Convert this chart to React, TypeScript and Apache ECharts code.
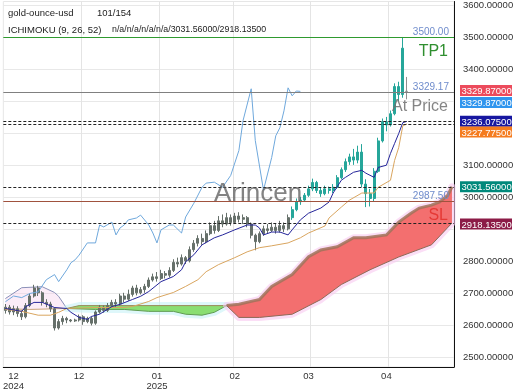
import React, { useEffect, useRef } from 'react';
import * as echarts from 'echarts';

const N_SLOTS = 110;
const categories = Array.from({ length: N_SLOTS }, (_, i) => String(i));
const xTickIndex = [2, 18, 37, 56, 74, 93];
const xTickLabels = ['12\n2024', '12', '01\n2025', '02', '03', '04'];
const yGridValues = [2500, 2600, 2700, 2800, 2900, 3000, 3100, 3200, 3300, 3400, 3500, 3600];
const yLabelValues = [2500, 2600, 2700, 2800, 3000, 3100, 3400, 3500, 3600];

// [open, close, low, high]
const ohlc: number[][] = [
  [2645, 2655, 2635, 2665], [2655, 2640, 2632, 2662], [2640, 2650, 2630, 2660], [2650, 2635, 2625, 2658],
  [2635, 2625, 2615, 2645], [2625, 2660, 2620, 2668], [2660, 2690, 2655, 2698], [2690, 2715, 2685, 2725],
  [2715, 2700, 2690, 2722], [2700, 2670, 2660, 2705], [2670, 2665, 2655, 2680], [2665, 2650, 2640, 2672],
  [2650, 2590, 2582, 2655], [2590, 2610, 2585, 2618], [2610, 2620, 2600, 2628], [2620, 2615, 2605, 2625],
  [2615, 2612, 2608, 2618], [2612, 2615, 2609, 2619], [2615, 2625, 2610, 2632], [2625, 2610, 2600, 2630],
  [2610, 2620, 2605, 2625], [2620, 2605, 2598, 2626], [2605, 2640, 2600, 2645], [2640, 2655, 2635, 2662],
  [2655, 2645, 2638, 2660], [2645, 2660, 2640, 2668], [2660, 2670, 2655, 2678], [2670, 2665, 2655, 2680],
  [2665, 2690, 2660, 2697], [2690, 2680, 2670, 2700], [2680, 2695, 2675, 2710], [2695, 2715, 2688, 2722],
  [2715, 2700, 2692, 2725], [2700, 2710, 2695, 2718], [2710, 2720, 2700, 2728], [2720, 2740, 2715, 2748],
  [2740, 2750, 2735, 2760], [2750, 2745, 2735, 2765], [2745, 2760, 2740, 2772], [2760, 2755, 2745, 2768],
  [2755, 2770, 2748, 2780], [2770, 2795, 2765, 2805], [2795, 2790, 2780, 2810], [2790, 2810, 2785, 2820],
  [2810, 2800, 2790, 2815], [2800, 2835, 2795, 2845], [2835, 2855, 2828, 2865], [2855, 2870, 2845, 2880],
  [2870, 2860, 2850, 2885], [2860, 2885, 2855, 2895], [2885, 2910, 2880, 2920], [2910, 2895, 2885, 2925],
  [2895, 2925, 2890, 2940], [2925, 2915, 2905, 2945], [2915, 2935, 2910, 2950], [2935, 2920, 2910, 2945],
  [2920, 2940, 2915, 2950], [2940, 2930, 2920, 2952], [2930, 2935, 2915, 2945], [2935, 2915, 2905, 2940],
  [2915, 2880, 2870, 2920], [2880, 2860, 2833, 2885], [2860, 2885, 2855, 2892], [2885, 2900, 2878, 2910],
  [2900, 2895, 2885, 2915], [2895, 2905, 2890, 2920], [2905, 2895, 2885, 2915], [2895, 2910, 2888, 2925],
  [2910, 2900, 2890, 2920], [2900, 2935, 2895, 2945], [2935, 2960, 2928, 2970], [2960, 2985, 2955, 2995],
  [2985, 2990, 2975, 3000], [2990, 3005, 2985, 3012], [3005, 3025, 3000, 3035], [3025, 3045, 3018, 3057],
  [3045, 3020, 3012, 3050], [3020, 3010, 3000, 3030], [3010, 3025, 3005, 3035], [3025, 3020, 3010, 3032],
  [3020, 3030, 3012, 3040], [3030, 3060, 3025, 3068], [3060, 3085, 3055, 3092], [3085, 3110, 3078, 3120],
  [3110, 3125, 3100, 3135], [3125, 3115, 3100, 3150], [3115, 3140, 3105, 3160], [3140, 3040, 3030, 3165],
  [3040, 3010, 2968, 3055], [3010, 2995, 2970, 3025], [2995, 3080, 2985, 3090], [3080, 3175, 3075, 3185],
  [3175, 3235, 3170, 3245], [3235, 3225, 3205, 3250], [3225, 3260, 3220, 3270], [3260, 3345, 3255, 3355],
  [3345, 3320, 3300, 3360], [3465, 3320, 3310, 3500], [3330, 3329.87, 3305, 3375],
];
const brightFrom = 70;
const currentIndex = 98;

const tenkan: number[][] = [
  [0, 2651], [4, 2642], [5, 2657], [7, 2670], [9, 2670], [12, 2654], [15, 2651], [16, 2639], [18, 2623],
  [20, 2617], [21, 2626], [23, 2633], [26, 2657], [28, 2664], [31, 2679], [33, 2689], [35, 2704], [38, 2735],
  [41, 2751], [43, 2772], [44, 2797], [46, 2819], [48, 2850], [51, 2872], [53, 2881], [56, 2897], [59, 2912],
  [61, 2912], [62, 2903], [63, 2881], [65, 2890], [67, 2890], [69, 2881], [70, 2897], [72, 2928], [74, 2949],
  [77, 2965], [79, 2984], [80, 3012], [82, 3052], [83, 3061], [85, 3077], [87, 3083], [88, 3074], [90, 3061],
  [91, 3092], [93, 3099], [94, 3136], [95, 3167], [96, 3198], [97, 3232], [98, 3236.075],
];
const kijun: number[][] = [
  [0, 2648], [4, 2642], [6, 2636], [8, 2630], [11, 2630], [13, 2639], [15, 2651], [22, 2654], [29, 2654],
  [31, 2657], [35, 2673], [37, 2685], [41, 2701], [44, 2720], [47, 2741], [49, 2766], [52, 2788], [56, 2810],
  [59, 2828], [62, 2841], [65, 2847], [69, 2856], [72, 2872], [74, 2887], [78, 2909], [79, 2934], [82, 2968],
  [84, 2990], [87, 3012], [90, 3012], [91, 3030], [94, 3052], [95, 3114], [96, 3154], [97, 3222], [98, 3227.775],
];
const chikou: number[][] = [
  [0, 2672], [2, 2690], [4, 2685], [6, 2698], [8, 2703], [10, 2741], [12, 2757], [13, 2735], [15, 2772],
  [16, 2794], [17, 2803], [18, 2818], [20, 2856], [22, 2856], [23, 2912], [24, 2906], [26, 2921], [27, 2881],
  [28, 2903], [29, 2912], [30, 2928], [32, 2934], [33, 2943], [35, 2912], [36, 2887], [37, 2856], [38, 2897],
  [40, 2912], [41, 2912], [43, 2887], [44, 2937], [46, 2980], [48, 3030], [49, 3043], [51, 3046], [53, 3030],
  [55, 3067], [57, 3145], [58, 3238], [60, 3338], [61, 3176], [63, 3021], [65, 3123], [66, 3191], [67, 3216],
  [68, 3269], [69, 3341], [70, 3316], [71, 3331], [72, 3329.87],
];

// cloud (senkou spans), by segment
const cloudLeftUpper: number[][] = [[0, 2682], [4, 2716], [9, 2719], [12, 2701], [13, 2689], [15, 2651]];
const cloudLeftLower: number[][] = [[0, 2650], [6, 2648], [12, 2650], [15, 2651]];
const cloudGreenUpper: number[][] = [[15, 2651], [18, 2660], [54, 2660]];
const cloudGreenLower: number[][] = [[15, 2651], [22, 2648], [29, 2648], [35, 2642], [41, 2642], [44, 2633], [48, 2630], [51, 2639], [54, 2660]];
const cloudRedUpper: number[][] = [
  [54, 2660], [57, 2664], [62, 2679], [65, 2720], [70, 2757], [74, 2813], [77, 2834], [81, 2844], [85, 2872],
  [88, 2872], [93, 2881], [96, 2921], [99, 2949], [101, 2965], [104, 2974], [106, 2984], [108, 3005], [109, 3031.56],
];
const cloudRedLower: number[][] = [
  [54, 2660], [57, 2623], [62, 2623], [70, 2633], [77, 2679], [82, 2726], [89, 2772], [96, 2812], [104, 2850], [109, 2918.135],
];

// horizontal levels: TP, at price, SL, then the dotted indicator levels
const levelValues = [3500, 3329.17, 2987.5, 3236.075, 3227.775, 3031.56, 2918.135];
const levelSmallLabels = ['3500.00', '3329.17', '2987.50', '', '', '', ''];
const levelBigLabels = ['TP1', 'At Price', 'SL', '', '', '', ''];
const tagValues = [3329.87, 3329.87, 3236.075, 3227.775, 3031.56, 2918.135];

const levelColors = ['#2f9a2f', '#808080', '#a0523e', '#222', '#222', '#222', '#222'];
const levelBigColors = ['#2f8f2f', 'rgba(110,110,110,0.85)', '#e53935', '', '', '', ''];
const levelDashed = [false, false, false, true, true, true, true];
const tagColors = ['#ec4b5c', '#2f95ee', '#1717a0', '#f57c1f', '#00897b', '#8c1b47'];
const tagOffsets = [-1, 11, 0, 8, 0, 1];
const vGridIndex = [19, 38, 56, 75, 94];
const FONT = 'Liberation Sans, Arial, Helvetica, sans-serif';

const cloudSegments = [
  { upper: cloudLeftUpper, lower: cloudLeftLower, fill: 'rgba(244,200,232,0.35)', up: '#8a90b8', low: '#c9a27a', upW: 1, halo: 'rgba(0,0,0,0)' },
  { upper: cloudGreenUpper, lower: cloudGreenLower, fill: '#8ade72', up: '#9a8a5a', low: '#5f9a52', upW: 1, halo: 'rgba(200,242,246,0.6)' },
  { upper: cloudRedUpper, lower: cloudRedLower, fill: '#f36f6f', up: 'rgba(160,115,90,0.85)', low: '#8c6a58', upW: 3, halo: 'rgba(249,200,240,0.6)' },
];

export default function App() {
  const ref = useRef<HTMLDivElement>(null);
  useEffect(() => {
    if (!ref.current) return;
    const chart = echarts.init(ref.current, null, { renderer: 'svg' });
    const candleData = ohlc.map((d, i) => {
      let up = '#66706a';
      let down = '#7e665c';
      if (i >= brightFrom) { up = '#26a69a'; down = '#ef5350'; }
      if (i === currentIndex) { up = '#8f8f8f'; down = '#8f8f8f'; }
      return { value: d, itemStyle: { color: up, color0: down, borderColor: up, borderColor0: down } };
    });
    const option: any = {
      animation: false,
      textStyle: { fontFamily: FONT },
      grid: { left: 3, right: 66, top: 0, bottom: 22, show: true, borderColor: '#e6e6e6', borderWidth: 1, backgroundColor: 'transparent' },
      xAxis: {
        type: 'category',
        data: categories,
        boundaryGap: true,
        axisLine: { lineStyle: { color: '#111', width: 1 } },
        axisTick: { show: false },
        splitLine: { show: true, interval: (idx: number) => vGridIndex.includes(idx), lineStyle: { color: '#e4e4e4', width: 1 } },
        axisLabel: {
          interval: (idx: number) => xTickIndex.includes(idx),
          formatter: (v: string) => { const k = xTickIndex.indexOf(Number(v)); return k >= 0 ? xTickLabels[k] : ''; },
          color: '#333', fontSize: 9.5, lineHeight: 10, margin: 3,
        },
      },
      yAxis: {
        type: 'value',
        position: 'right',
        min: 2468,
        max: 3611,
        axisLine: { show: true, lineStyle: { color: '#111', width: 1 } },
        axisTick: { show: false, customValues: yGridValues },
        splitLine: { show: true, lineStyle: { color: '#e8e8e8', width: 1 } },
        axisLabel: { customValues: yLabelValues, formatter: (v: number) => v.toFixed(5), color: '#333', fontSize: 9.5, margin: 9 },
      },
      graphic: [
        { type: 'text', left: 8, top: 7, z: 10, style: { text: 'gold-ounce-usd', fill: '#222', font: `9.5px ${FONT}` } },
        { type: 'text', left: 97, top: 7, z: 10, style: { text: '101/154', fill: '#222', font: `9.5px ${FONT}` } },
        { type: 'text', left: 8, top: 24, z: 10, style: { text: 'ICHIMOKU (9, 26, 52)', fill: '#222', font: `9.5px ${FONT}` } },
        { type: 'text', left: 112, top: 24, z: 10, style: { text: 'n/a/n/a/n/a/n/a/3031.56000/2918.13500', fill: '#222', font: `8.8px ${FONT}` } },
        { type: 'text', left: 214, top: 179, z: 10, style: { text: 'Arincen', fill: 'rgba(90,90,90,0.75)', font: `26px ${FONT}` } },
      ],
      series: [
        {
          type: 'custom', name: 'cloud', z: 1, silent: true,
          data: cloudSegments.map((_, k) => [k, 2500]),
          renderItem: (params: any, api: any) => {
            const seg = cloudSegments[params.dataIndex];
            const up = seg.upper.map((p) => api.coord(p));
            const lo = seg.lower.map((p) => api.coord(p));
            const poly = up.concat(lo.slice().reverse());
            return {
              type: 'group',
              children: [
                { type: 'polygon', shape: { points: poly }, style: { fill: 'none', stroke: seg.halo, lineWidth: 7, lineJoin: 'round' } },
                { type: 'polygon', shape: { points: poly }, style: { fill: seg.fill } },
                { type: 'polyline', shape: { points: up }, style: { stroke: seg.up, lineWidth: seg.upW, fill: null } },
                { type: 'polyline', shape: { points: lo }, style: { stroke: seg.low, lineWidth: 1, fill: null } },
              ],
            };
          },
        },
        { type: 'candlestick', name: 'price', z: 2, barWidth: 2.5, data: candleData },
        { type: 'line', name: 'chikou', data: chikou, z: 3, showSymbol: false, lineStyle: { color: '#6fa8dc', width: 1 } },
        { type: 'line', name: 'kijun', data: kijun, z: 3, showSymbol: false, lineStyle: { color: '#d9a55f', width: 1 } },
        { type: 'line', name: 'tenkan', data: tenkan, z: 3, showSymbol: false, lineStyle: { color: '#25259a', width: 1 } },
        {
          type: 'custom', name: 'levels', z: 4, silent: true, clip: false,
          data: levelValues.map((v) => [0, v]),
          renderItem: (params: any, api: any) => {
            const i = params.dataIndex;
            const v = api.value(1);
            const cs = params.coordSys;
            const y = Math.round(api.coord([0, v])[1]) + 0.5;
            const x0 = cs.x;
            const x1 = cs.x + cs.width;
            const children: any[] = [
              { type: 'line', shape: { x1: x0, y1: y, x2: x1, y2: y }, style: { stroke: levelColors[i], lineWidth: 1, lineDash: levelDashed[i] ? [3, 2] : null } },
            ];
            if (levelSmallLabels[i]) {
              children.push({ type: 'text', style: { text: levelSmallLabels[i], x: x1 - 5, y: y - 1.5, align: 'right', verticalAlign: 'bottom', fill: '#6f8ccc', font: `10px ${FONT}` } });
            }
            if (levelBigLabels[i]) {
              children.push({ type: 'text', style: { text: levelBigLabels[i], x: x1 - 6, y: y + 12.5, align: 'right', verticalAlign: 'middle', fill: levelBigColors[i], font: `16px ${FONT}` } });
            }
            return { type: 'group', children };
          },
        },
        {
          type: 'custom', name: 'tags', z: 6, silent: true, clip: false,
          data: tagValues.map((v) => [0, v]),
          renderItem: (params: any, api: any) => {
            const i = params.dataIndex;
            const v = api.value(1);
            const pt = api.coord([0, v]);
            const cs = params.coordSys;
            const x = cs.x + cs.width + 6;
            const y = pt[1] + tagOffsets[i];
            return {
              type: 'group',
              children: [
                { type: 'rect', shape: { x, y: y - 5.5, width: 52, height: 11 }, style: { fill: tagColors[i] } },
                { type: 'text', style: { text: v.toFixed(5), x: x + 1.5, y, verticalAlign: 'middle', fill: '#fff', font: `9.5px ${FONT}` } },
              ],
            };
          },
        },
      ],
    };
    chart.setOption(option);
    return () => chart.dispose();
  }, []);
  return <div ref={ref} style={{ position: 'fixed', left: 0, top: 0, width: 520, height: 390 }} />;
}
